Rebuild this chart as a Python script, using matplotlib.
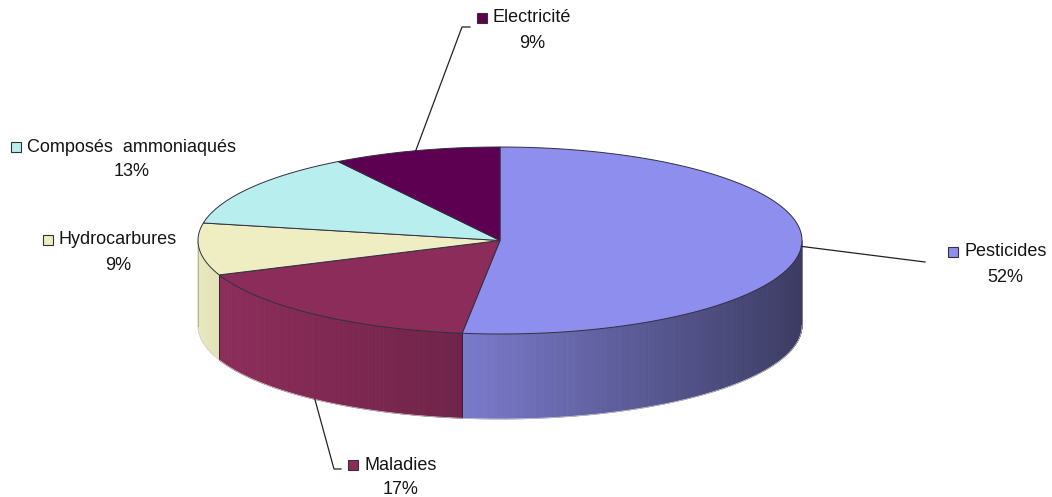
import numpy as np
import matplotlib
matplotlib.use("Agg")
import matplotlib.pyplot as plt
from matplotlib.patches import Polygon
from matplotlib.colors import to_rgb

# ---- data ----
categories = ["Pesticides", "Maladies", "Hydrocarbures", "Composés  ammoniaqués", "Electricité"]
values = [52, 17, 9, 13, 9]
top_colors = ["#8E8EEE", "#8C2C5A", "#EEEEC2", "#B8EEEE", "#5E0052"]

# ---- layout / style ----
W, H = 1052, 497
cx, cy, rx, ry, depth = 500, 240.5, 302, 93.5, 85
side_shade = {0: (0.86, 0.42), 1: (1.0, 0.80), 2: (0.98, 0.95)}
label_pos = {  # (square x, text y) in pixels
    0: (953, 252), 1: (353, 465), 2: (48, 240), 3: (16, 147), 4: (482, 18)}
leader_end = {0: [(925, 262)], 1: [(334, 469), (341, 469)], 4: [(462, 27), (470, 27)]}

plt.rcParams['font.family'] = ['Liberation Sans', 'DejaVu Sans']
fsize = 13

fig = plt.figure(figsize=(W / 100, H / 100), dpi=100)
ax = fig.add_axes([0, 0, 1, 1])
ax.set_xlim(0, W)
ax.set_ylim(H, 0)
ax.axis('off')


def pt(theta_deg, dz=0.0):
    t = np.radians(theta_deg)
    return cx + rx * np.cos(t), cy - ry * np.sin(t) + dz


total = float(sum(values))
bounds = []
start = 90.0
for v in values:
    end = start - 360.0 * v / total
    bounds.append((start, end))
    start = end

# ---- side faces ----
for i, (a0, a1) in enumerate(bounds):
    lo, hi = min(a0, a1), max(a0, a1)
    for shift in (0, -360, 360):
        l, h = lo + shift, hi + shift
        vl, vh = max(l, -180), min(h, 0)
        if vh <= vl:
            continue
        n = max(int((vh - vl) * 2), 2)
        angs = np.linspace(vl, vh, n + 1)
        base = np.array(to_rgb(top_colors[i]))
        s0, s1 = side_shade.get(i, (0.9, 0.8))
        x_left, x_right = pt(vl)[0], pt(vh)[0]
        for k in range(n):
            ta, tb = angs[k], angs[k + 1]
            xm = 0.5 * (pt(ta)[0] + pt(tb)[0])
            f = (xm - x_left) / max(x_right - x_left, 1)
            col = np.clip(base * (s0 + (s1 - s0) * f), 0, 1)
            p = [pt(ta), pt(tb), pt(tb, depth), pt(ta, depth)]
            ax.add_patch(Polygon(p, closed=True, facecolor=col, edgecolor=col,
                                 linewidth=0.6, zorder=1))
        for a in (vl, vh):
            if -179.9 < a < -0.1:
                x0, y0 = pt(a)
                ax.plot([x0, x0], [y0, y0 + depth], color='#3a2030', lw=0.7, zorder=2)

ang = np.linspace(-180, 0, 300)
ax.plot([pt(a, depth)[0] for a in ang], [pt(a, depth)[1] for a in ang],
        color='#d0d0d0', lw=0.5, zorder=2)
for a in (-180, 0):
    x0, y0 = pt(a)
    ax.plot([x0, x0], [y0, y0 + depth], color='#999999', lw=0.5, zorder=2)

# ---- top wedges ----
for i, (a0, a1) in enumerate(bounds):
    angs = np.linspace(a0, a1, 200)
    p = [(cx, cy)] + [pt(a) for a in angs]
    ax.add_patch(Polygon(p, closed=True, facecolor=top_colors[i],
                         edgecolor='#303040', linewidth=0.7, zorder=3))

# ---- leader lines ----
for i, pts in leader_end.items():
    a0, a1 = bounds[i]
    mid = 0.5 * (a0 + a1)
    dz = depth if i == 1 else 0.0
    sx, sy = pt(mid, dz)
    ax.plot([sx] + [p[0] for p in pts], [sy] + [p[1] for p in pts],
            color='#222222', lw=0.9, zorder=4)

# ---- labels ----
fig.canvas.draw()
for i, name in enumerate(categories):
    sxp, ty = label_pos[i]
    ax.plot([sxp], [ty], marker='s', markersize=6.5, markerfacecolor=top_colors[i],
            markeredgecolor='#333333', markeredgewidth=0.8, zorder=5)
    t = ax.text(sxp + 11, ty, name, fontsize=fsize, color='#151515',
                ha='left', va='center', zorder=5)
    bb = t.get_window_extent(renderer=fig.canvas.get_renderer())
    xc = sxp + 11 + bb.width / 2
    ax.text(xc, ty + 25, f"{values[i]}%", fontsize=fsize, color='#151515',
            ha='center', va='center', zorder=5)

fig.savefig("out.png", dpi=100)
